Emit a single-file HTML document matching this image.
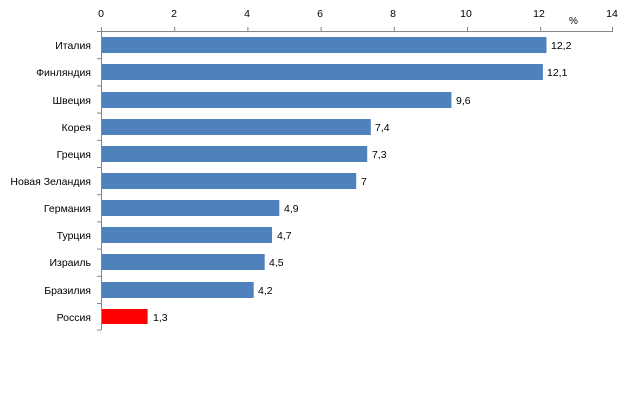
<!DOCTYPE html>
<html><head><meta charset="utf-8"><style>body{margin:0;background:#fff}</style></head>
<body>
<svg width="624" height="406" xmlns="http://www.w3.org/2000/svg" font-family="Liberation Sans, sans-serif" font-size="10.5" fill="#000">
<g stroke="#868686" stroke-width="1">
<line x1="101.5" y1="31.5" x2="613" y2="31.5"/>
<line x1="101.5" y1="31" x2="101.5" y2="330"/>
<g id="tt"></g>
</g>
<g stroke="#868686">
<line x1="101.5" y1="27" x2="101.5" y2="31"/><line x1="174.7" y1="27" x2="174.7" y2="31"/><line x1="247.9" y1="27" x2="247.9" y2="31"/><line x1="321.1" y1="27" x2="321.1" y2="31"/><line x1="394.3" y1="27" x2="394.3" y2="31"/><line x1="467.5" y1="27" x2="467.5" y2="31"/><line x1="540.7" y1="27" x2="540.7" y2="31"/><line x1="612.5" y1="27" x2="612.5" y2="31"/>
<line x1="97" y1="31.5" x2="101" y2="31.5"/><line x1="97" y1="58.7" x2="101" y2="58.7"/><line x1="97" y1="85.9" x2="101" y2="85.9"/><line x1="97" y1="113.1" x2="101" y2="113.1"/><line x1="97" y1="140.3" x2="101" y2="140.3"/><line x1="97" y1="167.5" x2="101" y2="167.5"/><line x1="97" y1="194.7" x2="101" y2="194.7"/><line x1="97" y1="221.9" x2="101" y2="221.9"/><line x1="97" y1="249.1" x2="101" y2="249.1"/><line x1="97" y1="276.3" x2="101" y2="276.3"/><line x1="97" y1="303.5" x2="101" y2="303.5"/><line x1="97" y1="330" x2="101" y2="330"/>
</g>
<g text-anchor="middle">
<text x="101" y="17">0</text><text x="174" y="17">2</text><text x="247" y="17">4</text><text x="320" y="17">6</text><text x="393" y="17">8</text><text x="466" y="17">10</text><text x="539" y="17">12</text><text x="612" y="17">14</text>
</g>
<text x="569" y="24" font-size="10">%</text>
<g fill="#4f81bd">
<rect x="102" y="37" width="444.5" height="16"/>
<rect x="102" y="64" width="440.9" height="16"/>
<rect x="102" y="92" width="349.4" height="16"/>
<rect x="102" y="119" width="268.8" height="16"/>
<rect x="102" y="146" width="265.2" height="16"/>
<rect x="102" y="173" width="254.2" height="16"/>
<rect x="102" y="200" width="177.3" height="16"/>
<rect x="102" y="227" width="170" height="16"/>
<rect x="102" y="254" width="162.7" height="16"/>
<rect x="102" y="282" width="151.7" height="16"/>
</g>
<rect x="102" y="309" width="45.6" height="15" fill="#ff0000"/>
<g text-anchor="end">
<text x="91" y="49">Италия</text><text x="91" y="76">Финляндия</text><text x="91" y="104">Швеция</text><text x="91" y="131">Корея</text><text x="91" y="158">Греция</text><text x="91" y="185">Новая Зеландия</text><text x="91" y="212">Германия</text><text x="91" y="239">Турция</text><text x="91" y="266">Израиль</text><text x="91" y="294">Бразилия</text><text x="91" y="321">Россия</text>
</g>
<g>
<text x="551" y="49">12,2</text><text x="547" y="76">12,1</text><text x="456" y="104">9,6</text><text x="375" y="131">7,4</text><text x="372" y="158">7,3</text><text x="361" y="185">7</text><text x="284" y="212">4,9</text><text x="277" y="239">4,7</text><text x="269" y="266">4,5</text><text x="258" y="294">4,2</text><text x="153" y="321">1,3</text>
</g>
</svg>
</body></html>
